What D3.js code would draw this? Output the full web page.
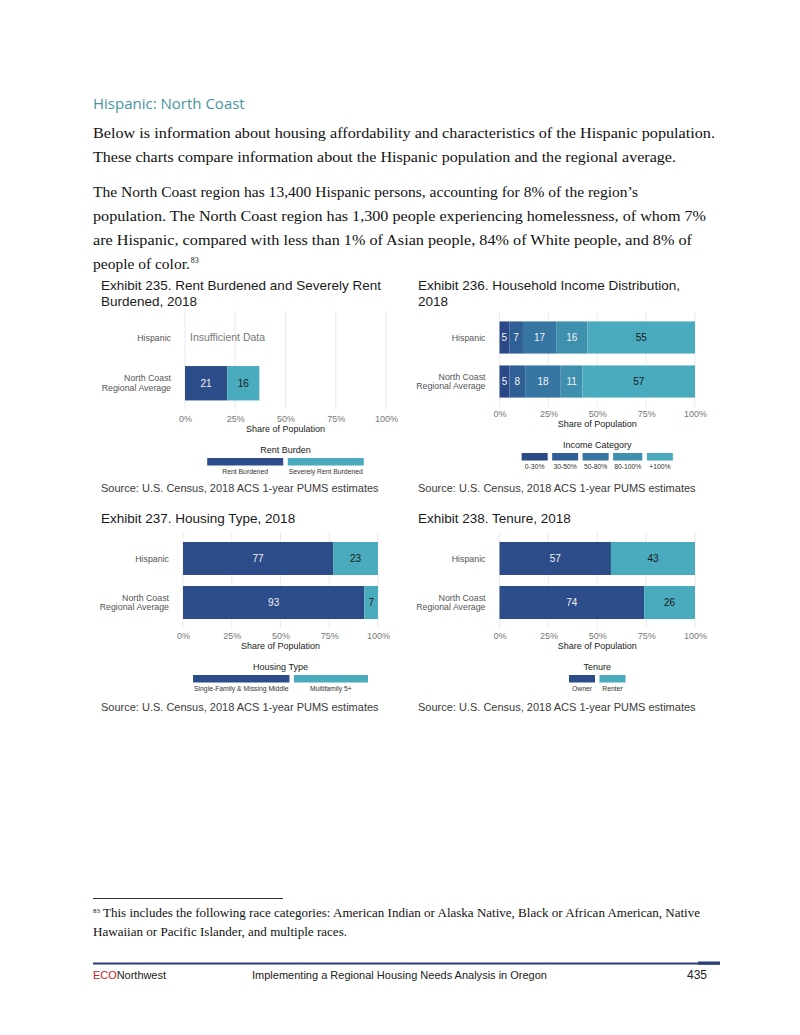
<!DOCTYPE html>
<html>
<head>
<meta charset="utf-8">
<script src="https://cdn.jsdelivr.net/npm/d3@7"></script>
<style>
  body { margin: 0; background: #fff; }
  svg { display: block; }
  text { font-family: "Liberation Sans", Arial, sans-serif; }
</style>
</head>
<body>
<svg id="page" width="800" height="1035"></svg>
<script>
// ---- data ----
const groups = ['Hispanic', 'North Coast\nRegional Average'];
const xTicks = [0, 25, 50, 75, 100];

const rentSeries = ['Rent Burdened', 'Severely Rent Burdened'];
const rentHispanic = null; // insufficient data
const rentRegional = [21, 16];

const incomeSeries = ['0-30%', '30-50%', '50-80%', '80-100%', '+100%'];
const incomeHispanic = [5, 7, 17, 16, 55];
const incomeRegional = [5, 8, 18, 11, 57];

const housingSeries = ['Single-Family & Missing Middle', 'Multifamily 5+'];
const housingHispanic = [77, 23];
const housingRegional = [93, 7];

const tenureSeries = ['Owner', 'Renter'];
const tenureHispanic = [57, 43];
const tenureRegional = [74, 26];

// page text
const heading = 'Hispanic: North Coast';
const bodyLines = [
  'Below is information about housing affordability and characteristics of the Hispanic population.',
  'These charts compare information about the Hispanic population and the regional average.',
  'The North Coast region has 13,400 Hispanic persons, accounting for 8% of the region\u2019s',
  'population. The North Coast region has 1,300 people experiencing homelessness, of whom 7%',
  'are Hispanic, compared with less than 1% of Asian people, 84% of White people, and 8% of',
  'people of color.'
];
const footnoteLines = [
  'This includes the following race categories: American Indian or Alaska Native, Black or African American, Native',
  'Hawaiian or Pacific Islander, and multiple races.'
];
const sourceText = 'Source: U.S. Census, 2018 ACS 1-year PUMS estimates';

// colours
const twoColours = ['#2c4d89', '#4aabbe'];
const incomeColours = ['#2b4987', '#305f96', '#3775a3', '#3f8fae', '#4aaabe'];

const svg = d3.select('#page');
svg.append('rect').attr('width', 800).attr('height', 1035).attr('fill', '#fff');

// ### page header + paragraph ###
svg.append('text')
  .attr('x', 93).attr('y', 109)
  .style('font-family', '"Open Sans", sans-serif')
  .style('font-size', '15px')
  .attr('fill', '#4794a2')
  .text(heading);

const bodyBase = [138, 162, 197, 221, 245, 269];
const bodyEnd = [715, 676, 638, 706, 692, null];
bodyLines.forEach((line, i) => {
  const t = svg.append('text')
    .attr('x', 93).attr('y', bodyBase[i])
    .style('font-family', '"Liberation Serif", serif')
    .style('font-size', '15.5px')
    .attr('fill', '#111')
    .text(line);
  if (bodyEnd[i]) t.attr('textLength', bodyEnd[i] - 93).attr('lengthAdjust', 'spacingAndGlyphs');
  if (i === bodyLines.length - 1) {
    const w = t.node().getComputedTextLength();
    svg.append('text')
      .attr('x', 93 + w + 1).attr('y', bodyBase[i] - 6)
      .style('font-family', '"Liberation Serif", serif')
      .style('font-size', '8px')
      .attr('fill', '#111')
      .text('83');
  }
});

// ### one stacked bar panel ###
function drawPanel(cfg) {
  const g = svg.append('g');

  cfg.title.forEach((t, i) => {
    g.append('text')
      .attr('x', cfg.left).attr('y', cfg.titleY + i * 15.5)
      .style('font-size', '13.5px')
      .attr('fill', '#1a1a1a')
      .text(t);
  });

  const x = d3.scaleLinear().domain([0, 100]).range([cfg.x0, cfg.x1]);
  const y = d3.scaleBand()
    .domain(groups)
    .range([cfg.y0, cfg.y1])
    .paddingInner(cfg.padIn)
    .paddingOuter(cfg.padOut);
  const colour = d3.scaleOrdinal().domain(cfg.series).range(cfg.colours);

  // gridlines
  g.append('g').selectAll('line')
    .data(xTicks)
    .join('line')
      .attr('x1', d => x(d)).attr('x2', d => x(d))
      .attr('y1', cfg.y0).attr('y2', cfg.y1)
      .attr('stroke', '#ebebeb')
      .attr('stroke-width', 1);

  // rows for the stack, skip groups without data
  const rows = groups.map((grp, i) => {
    const r = { group: grp, missing: !cfg.values[i] };
    cfg.series.forEach((s, j) => r[s] = cfg.values[i] ? cfg.values[i][j] : 0);
    return r;
  });
  const stack = d3.stack()
    .keys(cfg.series)
    .offset(cfg.expand ? d3.stackOffsetExpand : d3.stackOffsetNone);
  const k = cfg.expand ? 100 : 1;
  const layers = stack(rows.filter(r => !r.missing));

  const layerG = g.append('g').selectAll('g')
    .data(layers)
    .join('g')
      .attr('fill', d => colour(d.key));

  layerG.selectAll('rect')
    .data(d => d.map(p => ({ key: d.key, p })))
    .join('rect')
      .attr('x', d => x(d.p[0] * k))
      .attr('width', d => x(d.p[1] * k) - x(d.p[0] * k))
      .attr('y', d => y(d.p.data.group))
      .attr('height', y.bandwidth());

  layerG.selectAll('text')
    .data(d => d.map(p => ({ key: d.key, p })))
    .join('text')
      .attr('x', d => x((d.p[0] + d.p[1]) / 2 * k))
      .attr('y', d => y(d.p.data.group) + y.bandwidth() / 2)
      .attr('dy', '0.35em')
      .attr('text-anchor', 'middle')
      .style('font-size', '10px')
      .attr('fill', d => d3.hsl(colour(d.key)).l > 0.5 ? '#1a1a1a' : '#f2f2f2')
      .text(d => d.p.data[d.key]);

  // groups without data
  rows.filter(r => r.missing).forEach(r => {
    g.append('text')
      .attr('x', x(0) + 5)
      .attr('y', y(r.group) + y.bandwidth() / 2)
      .attr('dy', '0.35em')
      .style('font-size', '10.5px')
      .attr('fill', '#777')
      .text('Insufficient Data');
  });

  // y labels
  const yl = g.append('g').selectAll('text')
    .data(groups)
    .join('text')
      .attr('x', cfg.x0 - 14)
      .attr('y', d => y(d) + y.bandwidth() / 2)
      .attr('text-anchor', 'end')
      .style('font-size', '8.8px')
      .attr('fill', '#555');
  yl.each(function(d) {
    const lines = d.split('\n');
    d3.select(this).selectAll('tspan')
      .data(lines)
      .join('tspan')
        .attr('x', cfg.x0 - 14)
        .attr('dy', (l, i) => i === 0 ? (0.35 - (lines.length - 1) * 0.55) + 'em' : '1.1em')
        .text(l => l);
  });

  // x axis
  const ax = g.append('g')
    .attr('transform', `translate(0,${cfg.tickY})`)
    .call(d3.axisBottom(x).tickValues(xTicks).tickSize(0).tickFormat(d => d + '%'));
  ax.select('.domain').remove();
  ax.selectAll('text')
    .attr('y', 0).attr('dy', '0.35em')
    .style('font-family', '"Liberation Sans", Arial, sans-serif')
    .style('font-size', '9px')
    .attr('fill', '#777');

  g.append('text')
    .attr('x', (cfg.x0 + cfg.x1) / 2).attr('y', cfg.tickY + 10)
    .attr('dy', '0.35em')
    .attr('text-anchor', 'middle')
    .style('font-size', '9px')
    .attr('fill', '#222')
    .text('Share of Population');

  // legend
  const legY = cfg.tickY + 31;
  const cx = (cfg.x0 + cfg.x1) / 2;
  g.append('text')
    .attr('x', cx).attr('y', legY)
    .attr('dy', '0.35em')
    .attr('text-anchor', 'middle')
    .style('font-size', '9px')
    .attr('fill', '#222')
    .text(cfg.legendTitle);

  const leg = g.append('g');
  const labels = leg.selectAll('text')
    .data(cfg.series)
    .join('text')
      .attr('y', legY + 22)
      .attr('dy', '0.35em')
      .attr('text-anchor', 'middle')
      .style('font-size', '6.8px')
      .attr('fill', '#333')
      .text(d => d);
  const widths = [];
  labels.each(function() { widths.push(Math.max(cfg.keyW, this.getComputedTextLength() + 2)); });
  const gap = 4.5;
  const total = d3.sum(widths) + gap * (widths.length - 1);
  let pos = cx - total / 2;
  const starts = widths.map(w => { const s = pos; pos += w + gap; return s; });
  labels.attr('x', (d, i) => starts[i] + widths[i] / 2);
  leg.selectAll('rect')
    .data(cfg.series)
    .join('rect')
      .attr('x', (d, i) => starts[i])
      .attr('y', legY + 8)
      .attr('width', (d, i) => widths[i])
      .attr('height', 7.5)
      .attr('fill', d => colour(d));

  g.append('text')
    .attr('x', cfg.left).attr('y', cfg.sourceY)
    .style('font-size', '11px')
    .attr('fill', '#3a3a3a')
    .text(sourceText);
}

drawPanel({
  title: ['Exhibit 235. Rent Burdened and Severely Rent', 'Burdened, 2018'],
  left: 101, titleY: 290,
  x0: 185, x1: 386, y0: 311, y1: 410, padIn: 0.244, padOut: 0.21,
  tickY: 419, sourceY: 492,
  series: rentSeries, values: [rentHispanic, rentRegional], expand: false,
  colours: twoColours, legendTitle: 'Rent Burden', keyW: 76
});

drawPanel({
  title: ['Exhibit 236. Household Income Distribution,', '2018'],
  left: 418, titleY: 290,
  x0: 499.5, x1: 695, y0: 312, y1: 407, padIn: 0.27, padOut: 0.214,
  tickY: 414, sourceY: 492,
  series: incomeSeries, values: [incomeHispanic, incomeRegional], expand: true,
  colours: incomeColours, legendTitle: 'Income Category', keyW: 26
});

drawPanel({
  title: ['Exhibit 237. Housing Type, 2018'],
  left: 101, titleY: 523,
  x0: 183, x1: 378, y0: 532, y1: 629, padIn: 0.25, padOut: 0.227,
  tickY: 636, sourceY: 711,
  series: housingSeries, values: [housingHispanic, housingRegional], expand: true,
  colours: twoColours, legendTitle: 'Housing Type', keyW: 74
});

drawPanel({
  title: ['Exhibit 238. Tenure, 2018'],
  left: 418, titleY: 523,
  x0: 499.5, x1: 695, y0: 532, y1: 629, padIn: 0.25, padOut: 0.227,
  tickY: 636, sourceY: 711,
  series: tenureSeries, values: [tenureHispanic, tenureRegional], expand: true,
  colours: twoColours, legendTitle: 'Tenure', keyW: 26
});

// ### footnote ###
svg.append('line')
  .attr('x1', 93).attr('x2', 283).attr('y1', 898.5).attr('y2', 898.5)
  .attr('stroke', '#000').attr('stroke-width', 0.8);
svg.append('text')
  .attr('x', 93).attr('y', 913)
  .style('font-family', '"Liberation Serif", serif')
  .style('font-size', '7px')
  .attr('fill', '#111')
  .text('83');
const fnEnd = [700, 347];
footnoteLines.forEach((line, i) => {
  svg.append('text')
    .attr('x', i === 0 ? 103 : 93).attr('y', 917 + i * 19)
    .attr('textLength', fnEnd[i] - (i === 0 ? 103 : 93))
    .attr('lengthAdjust', 'spacingAndGlyphs')
    .style('font-family', '"Liberation Serif", serif')
    .style('font-size', '12.5px')
    .attr('fill', '#111')
    .text(line);
});

// ### footer ###
svg.append('line')
  .attr('x1', 93).attr('x2', 720).attr('y1', 963.5).attr('y2', 963.5)
  .attr('stroke', '#2a3f75').attr('stroke-width', 2.2);
svg.append('rect')
  .attr('x', 698).attr('y', 961.5).attr('width', 22).attr('height', 3.2)
  .attr('fill', '#2a3f75');
const foot = svg.append('text')
  .attr('x', 93).attr('y', 979)
  .style('font-family', '"Liberation Sans Narrow", "Liberation Sans", Arial, sans-serif')
  .style('font-size', '11.5px')
  .attr('textLength', 73).attr('lengthAdjust', 'spacingAndGlyphs');
foot.append('tspan').attr('fill', '#c8202f').text('ECO');
foot.append('tspan').attr('fill', '#222').text('Northwest');
svg.append('text')
  .attr('x', 252).attr('y', 979)
  .attr('textLength', 295).attr('lengthAdjust', 'spacingAndGlyphs')
  .style('font-family', '"Liberation Sans Narrow", "Liberation Sans", Arial, sans-serif')
  .style('font-size', '11.5px')
  .attr('fill', '#222')
  .text('Implementing a Regional Housing Needs Analysis in Oregon');
svg.append('text')
  .attr('x', 707).attr('y', 979)
  .attr('text-anchor', 'end')
  .style('font-family', '"Liberation Sans Narrow", "Liberation Sans", Arial, sans-serif')
  .style('font-size', '12px')
  .attr('fill', '#222')
  .text('435');
</script>
</body>
</html>
